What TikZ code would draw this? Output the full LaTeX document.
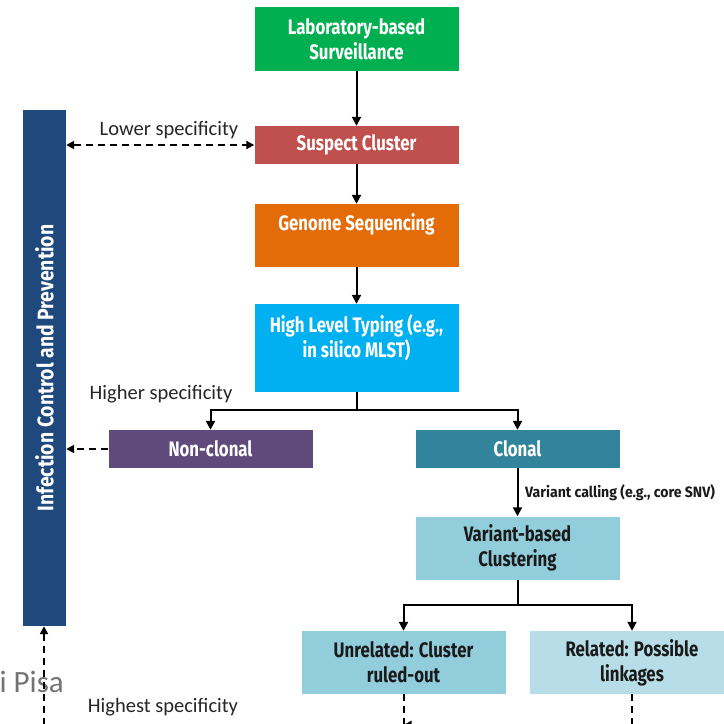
\documentclass[tikz,border=0pt]{standalone}
\usepackage{fontspec}
\setmainfont{Carlito}
\newfontfamily\boxfont[FakeStretch=0.8]{Fira Sans}
\newfontfamily\barfont[FakeStretch=0.86]{Fira Sans}
\newfontfamily\smallfont[FakeStretch=0.94]{Fira Sans}
\usetikzlibrary{arrows.meta,calc}
\definecolor{cLab}{HTML}{00B050}
\definecolor{cSus}{HTML}{C0504D}
\definecolor{cGen}{HTML}{E36C09}
\definecolor{cHlt}{HTML}{00B0F0}
\definecolor{cNon}{HTML}{604A7B}
\definecolor{cClo}{HTML}{31849B}
\definecolor{cVar}{HTML}{92CDDC}
\definecolor{cRel}{HTML}{B7DEE8}
\definecolor{cBar}{HTML}{1F497D}
\definecolor{cTxt}{HTML}{1A1A1A}
\begin{document}
\begin{tikzpicture}[x=1pt,y=-1pt,
  box/.style={rectangle, draw=none, minimum width=204pt, inner sep=0pt, align=center,
    font=\boxfont\bfseries\fontsize{21}{25}\selectfont},
  wbox/.style={box, text=white},
  dbox/.style={box, text=cTxt},
  wtxt/.style={text=white, align=center, inner sep=0pt, font=\boxfont\bfseries\fontsize{21}{25}\selectfont},
  lbl/.style={inner sep=0pt, text=black!85, font=\fontsize{20.5}{24}\selectfont},
  arr/.style={line width=2pt, -{Triangle[length=9pt,width=9pt]}},
  ln/.style={line width=2pt},
  darr/.style={line width=2pt, dash pattern=on 7pt off 5pt, -{Triangle[length=8pt,width=8pt]}},
  dln/.style={line width=2pt, dash pattern=on 7pt off 5pt},
]
\useasboundingbox (0,0) rectangle (724,724);
\clip (0,0) rectangle (724,724);

% boxes
\node[wbox, fill=cLab, minimum height=64pt] (lab) at (356.5,39) {Laboratory-based\\Surveillance};
\node[wbox, fill=cSus, minimum height=38pt] (sus) at (356.5,145) {Suspect Cluster};
\node[box, fill=cGen, minimum height=63pt] (gen) at (356.5,235.5) {};
\node[wtxt] (gent) at ($(gen.center)+(0,-11)$) {Genome Sequencing};
\node[box, fill=cHlt, minimum height=88pt] (hlt) at (356.5,348) {};
\node[wtxt] (hltt) at ($(hlt.center)+(0,-10)$) {High Level Typing (e.g.,\\in silico MLST)};
\node[wbox, fill=cNon, minimum height=38pt] (non) at (210.5,449) {Non-clonal};
\node[wbox, fill=cClo, minimum height=38pt] (clo) at (517.5,449) {Clonal};
\node[dbox, fill=cVar, minimum height=63pt] (var) at (517.5,548) {Variant-based\\Clustering};
\node[dbox, fill=cVar, minimum height=63pt] (unr) at (403.5,662.5) {Unrelated: Cluster\\ruled-out};
\node[dbox, fill=cRel, minimum height=63pt] (rel) at (632,662.5) {Related: Possible\\linkages};

% side bar
\node[rectangle, fill=cBar, minimum width=43pt, minimum height=516pt, inner sep=0pt] (bar) at (44.5,368) {};
\node[text=white, inner sep=0pt, rotate=90, font=\barfont\bfseries\fontsize{22.5}{26}\selectfont] (bart) at (bar.center) {Infection Control and Prevention};

% labels
\node[lbl] (lowl) at (169,130) {Lower specificity};
\node[lbl] (higl) at (161,394) {Higher specificity};
\node[lbl] (hstl) at (163,707) {Highest specificity};
\node[inner sep=0pt, text=black!55, font=\fontsize{31}{35}\selectfont, anchor=base east] (pisa) at (64,692) {i Pisa};
\node[inner sep=0pt, anchor=west, text=cTxt, font=\smallfont\bfseries\fontsize{15}{18}\selectfont] (vcl) at (525,493) {Variant calling (e.g., core SNV)};

% main flow
\draw[arr] (lab) -- (sus);
\draw[arr] (sus) -- (gen);
\draw[arr] (gen) -- (hlt);
\coordinate (s1) at (356.5,410);
\draw[ln] (hlt) -- (s1);
\draw[arr] (s1) -| (non);
\draw[arr] (s1) -| (clo);
\draw[arr] (clo) -- (var);
\coordinate (s2) at (517.5,605);
\draw[ln] (var) -- (s2);
\draw[arr] (s2) -| (unr);
\draw[arr] (s2) -| (rel);

% dashed feedback
\draw[dln, {Triangle[length=8pt,width=8pt]}-{Triangle[length=8pt,width=8pt]}] (bar.east |- sus) -- (sus.west);
\draw[darr] (non.west) -- (bar.east |- non);
\coordinate (b1) at (403.5,725);
\coordinate (b2) at (632,725);
\coordinate (b0) at (44,725);
\draw[dln] (unr.south) -- (b1);
\draw[darr] (rel.south) -- (b2) -- (b1);
\draw[darr] (b1) -- (b0) -- (bar.south -| b0);
\end{tikzpicture}
\end{document}
